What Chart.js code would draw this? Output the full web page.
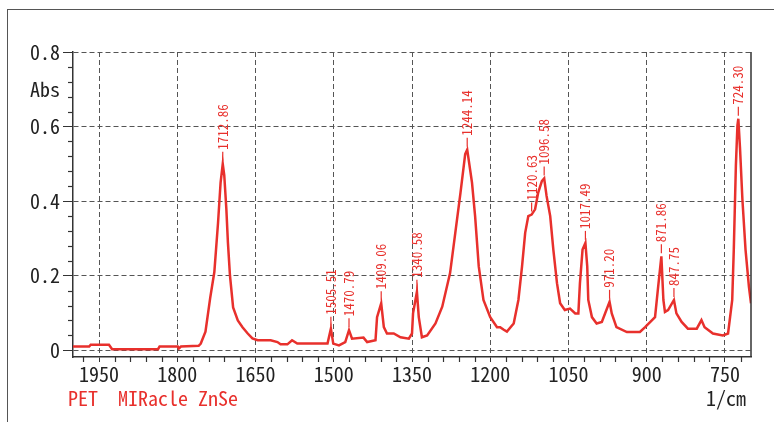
<!DOCTYPE html>
<html>
<head>
<meta charset="utf-8">
<script src="https://cdn.jsdelivr.net/npm/chart.js@4/dist/chart.umd.min.js"></script>
<style>
html,body{margin:0;padding:0;background:#fff;}
canvas{display:block;}
</style>
</head>
<body>
<canvas id="c" width="774" height="422"></canvas>
<script>
// ---- data ----
const wavenumbers = [2000,1969,1966,1931,1925,1837,1834,1799,1797,1793,1759,1755,1746,1737,1729,1722,1717,1712.86,1710,1706,1703,1699,1693,1684,1675,1665,1656,1646,1621,1608,1602,1589,1580,1570,1567,1512,1505.51,1501,1490,1478,1470.79,1465,1443,1436,1420,1417,1409.06,1404,1398,1385,1372,1356,1350,1348,1340.58,1337,1331,1321,1305,1292,1277,1267,1257,1248,1244.14,1235,1229,1222,1213,1200,1187,1181,1174,1168,1155,1146,1139,1133,1127,1120.63,1114,1108,1101,1096.58,1092,1085,1079,1072,1066,1057,1047,1037,1031,1028,1023,1017.49,1014,1012,1005,996,986,980,971.20,967,958,938,913,903,884,878,871.86,868,865,859,847.75,843,833,821,804,795,789,773,754,744,736,733,729,726,724.30,721,716.5,710.5,704,700];
const absorbance = [0.010,0.010,0.015,0.015,0.003,0.003,0.010,0.010,0.005,0.010,0.012,0.018,0.05,0.14,0.21,0.34,0.45,0.50,0.47,0.38,0.29,0.20,0.115,0.08,0.062,0.045,0.032,0.027,0.027,0.022,0.016,0.016,0.027,0.018,0.018,0.018,0.058,0.018,0.013,0.022,0.054,0.031,0.034,0.022,0.027,0.089,0.126,0.062,0.045,0.045,0.035,0.031,0.045,0.099,0.157,0.089,0.035,0.040,0.072,0.117,0.207,0.315,0.423,0.526,0.538,0.45,0.36,0.225,0.135,0.089,0.062,0.062,0.055,0.05,0.072,0.135,0.225,0.315,0.36,0.364,0.378,0.423,0.454,0.461,0.414,0.36,0.27,0.18,0.126,0.108,0.112,0.099,0.099,0.18,0.27,0.288,0.225,0.135,0.089,0.072,0.076,0.098,0.13,0.099,0.062,0.049,0.049,0.062,0.089,0.171,0.252,0.135,0.103,0.108,0.135,0.099,0.076,0.058,0.058,0.081,0.062,0.045,0.040,0.045,0.135,0.27,0.495,0.603,0.621,0.54,0.405,0.27,0.171,0.126];
const peakWavenumbers = [1712.86,1505.51,1470.79,1409.06,1340.58,1244.14,1120.63,1096.58,1017.49,971.20,871.86,847.75,724.30];
const peakLabels = ["1712.86","1505.51","1470.79","1409.06","1340.58","1244.14","1120.63","1096.58","1017.49","971.20","871.86","847.75","724.30"];
const xTickValues = [1950,1800,1650,1500,1350,1200,1050,900,750];
const yTickValues = [0,0.2,0.4,0.6,0.8];
const yAxisLabel = "Abs";
const xAxisLabel = "1/cm";
const sampleLabel = "PET  MIRacle ZnSe";

const RED = '#e8302c';
const MONO = '"Noto Sans Mono CJK JP", "Liberation Mono", "DejaVu Sans Mono", monospace';

const points = wavenumbers.map((w,i)=>({x:w, y:absorbance[i]}));

const decorPlugin = {
  id:'decor',
  afterDraw(chart){
    const ctx = chart.ctx, a = chart.chartArea;
    const xs = chart.scales.x, ys = chart.scales.y;
    ctx.save();
    // outer frame
    ctx.strokeStyle = '#555'; ctx.lineWidth = 1;
    ctx.strokeRect(7.5, 9.5, 900, 600);
    // right border of plot
    ctx.strokeStyle = '#333'; ctx.lineWidth = 1.5;
    ctx.beginPath(); ctx.moveTo(a.right, a.top); ctx.lineTo(a.right, a.bottom); ctx.stroke();
    // minor ticks
    ctx.lineWidth = 1.2; ctx.strokeStyle = '#333';
    for (let v = 720; v <= 1990; v += 30) {
      if (xTickValues.includes(v)) continue;
      const px = Math.round(xs.getPixelForValue(v)) + 0.5;
      ctx.beginPath(); ctx.moveTo(px, a.bottom); ctx.lineTo(px, a.bottom + 5); ctx.stroke();
    }
    for (let k = 0; k <= 20; k++) {
      if (k % 5 === 0) continue;
      const v = k * 0.04;
      const py = Math.round(ys.getPixelForValue(v)) + 0.5;
      ctx.beginPath(); ctx.moveTo(a.left - 5, py); ctx.lineTo(a.left, py); ctx.stroke();
    }
    // Abs label
    ctx.fillStyle = '#222';
    ctx.font = '20px ' + MONO;
    ctx.textAlign = 'right'; ctx.textBaseline = 'middle';
    ctx.fillText(yAxisLabel, a.left - 13, ys.getPixelForValue(0.7));
    // bottom texts
    ctx.textAlign = 'right';
    ctx.fillText(xAxisLabel, a.right - 5, 398);
    ctx.fillStyle = RED; ctx.textAlign = 'left';
    ctx.fillText(sampleLabel, 68, 398);
    // peak labels
    ctx.font = '13px ' + MONO;
    ctx.strokeStyle = RED; ctx.lineWidth = 1.2;
    peakWavenumbers.forEach((w, i) => {
      const idx = wavenumbers.indexOf(w);
      const px = xs.getPixelForValue(w);
      const py = ys.getPixelForValue(absorbance[idx]) - 3;
      ctx.beginPath(); ctx.moveTo(px, py); ctx.lineTo(px, py - 9); ctx.stroke();
      ctx.save();
      ctx.translate(px, py - 11);
      ctx.rotate(-Math.PI/2);
      ctx.textAlign = 'left'; ctx.textBaseline = 'middle';
      ctx.fillText(peakLabels[i], 0, 0);
      ctx.restore();
    });
    ctx.restore();
  }
};

new Chart(document.getElementById('c'), {
  type: 'line',
  data: { datasets: [{ data: points, borderColor: RED, borderWidth: 2.5, pointRadius: 0, tension: 0, fill: false }] },
  options: {
    responsive: false, animation: false, devicePixelRatio: 1,
    layout: { padding: { left: 0, top: 52, right: 23, bottom: 0 } },
    plugins: { legend: { display: false }, tooltip: { enabled: false } },
    scales: {
      x: {
        type: 'linear', reverse: true, min: 700, max: 2000,
        afterBuildTicks: s => { s.ticks = xTickValues.map(v => ({ value: v })); },
        afterFit: s => { s.height = 65; },
        grid: { color: '#555', lineWidth: 1, drawTicks: true, tickLength: 5, tickColor: '#333', tickBorderDash: [] },
        border: { display: true, color: '#333', width: 1.5, dash: [5, 3] },
        ticks: { font: { family: MONO, size: 20 }, color: '#222', padding: 0, maxRotation: 0, autoSkip: false, callback: v => String(v) }
      },
      y: {
        min: -0.018, max: 0.8,
        afterBuildTicks: s => { s.ticks = yTickValues.map(v => ({ value: v })); },
        afterFit: s => { s.width = 73; },
        grid: { color: '#555', lineWidth: 1, drawTicks: true, tickLength: 10, tickColor: '#333', tickBorderDash: [] },
        border: { display: true, color: '#333', width: 1.5, dash: [5, 3] },
        ticks: { font: { family: MONO, size: 20 }, color: '#222', padding: 3, callback: v => (v === 0 ? '0' : v.toFixed(1)) }
      }
    }
  },
  plugins: [decorPlugin]
});
</script>
</body>
</html>
